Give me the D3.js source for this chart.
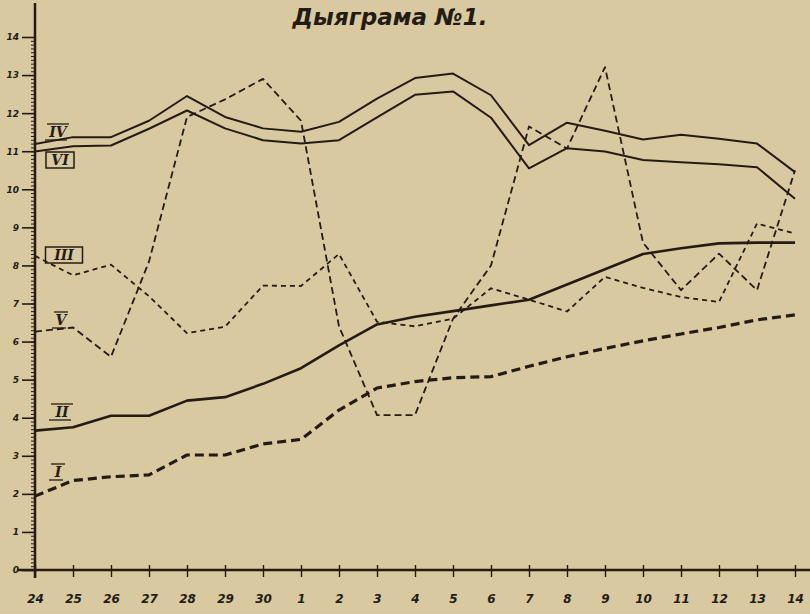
<!DOCTYPE html>
<html lang="be">
<head>
<meta charset="utf-8">
<title>Дыяграма №1</title>
<script src="https://cdnjs.cloudflare.com/ajax/libs/d3/7.8.5/d3.min.js"></script>
<style>
  body { margin: 0; background: #d8c9a0; }
  svg { display: block; }
  .tick text { font-family: "DejaVu Sans", sans-serif; font-style: italic; font-weight: bold; }
</style>
</head>
<body>
<script>
var w = 810, h = 614;
var ink = "#241c13";

// dates along the bottom (24 .. 30, then 1 .. 14)
var days = ["24","25","26","27","28","29","30","1","2","3","4","5","6","7","8","9","10","11","12","13","14"];
var yTicks = [0,1,2,3,4,5,6,7,8,9,10,11,12,13,14];

// curves
var curveI   = [1.94,2.35,2.45,2.5,3.02,3.02,3.31,3.43,4.2,4.78,4.95,5.05,5.08,5.35,5.6,5.82,6.02,6.2,6.37,6.57,6.7];
var curveII  = [3.66,3.75,4.05,4.05,4.45,4.54,4.89,5.3,5.9,6.45,6.65,6.8,6.95,7.1,7.5,7.9,8.3,8.45,8.58,8.6,8.6];
var curveIII = [8.25,7.74,8.02,7.19,6.22,6.39,7.47,7.46,8.3,6.52,6.4,6.6,7.4,7.1,6.79,7.7,7.41,7.17,7.04,9.1,8.84];
var curveIV  = [11.19,11.37,11.37,11.8,12.45,11.9,11.6,11.51,11.77,12.38,12.92,13.04,12.47,11.16,11.75,11.54,11.31,11.43,11.33,11.2,10.45];
var curveV   = [6.26,6.37,5.6,8.1,11.9,12.36,12.9,11.8,6.4,4.07,4.07,6.6,8.0,11.65,11.07,13.21,8.6,7.35,8.31,7.35,10.5];
var curveVI  = [10.99,11.13,11.15,11.59,12.07,11.6,11.29,11.2,11.29,11.89,12.48,12.57,11.88,10.55,11.08,10.99,10.77,10.71,10.66,10.58,9.75];

var svg = d3.select("body").append("svg")
    .attr("width", w)
    .attr("height", h);

svg.append("rect").attr("width", w).attr("height", h).attr("fill", "#d8c9a0");

var x = d3.scalePoint().domain(d3.range(days.length)).range([35, 795]);
var y = d3.scaleLinear().domain([0, 14]).range([570, 37]);

// title
svg.append("text")
    .attr("x", 390).attr("y", 25)
    .attr("text-anchor", "middle")
    .attr("font-family", "DejaVu Sans, sans-serif")
    .attr("font-style", "italic")
    .attr("font-weight", "bold")
    .attr("font-size", 23)
    .attr("fill", ink)
    .text("Дыяграма №1.");

// y ruler: fine ticks, then numbered ones
var fine = svg.append("g").attr("transform", "translate(35,0)")
    .call(d3.axisLeft(y).tickValues(d3.range(0, 14.01, 0.1)).tickSize(4).tickFormat(""));
fine.select(".domain").remove();
fine.selectAll("line").attr("stroke", ink).attr("stroke-width", 1);

var yAxis = svg.append("g").attr("transform", "translate(35,0)")
    .call(d3.axisLeft(y).tickValues(yTicks).tickSize(13).tickPadding(3).tickFormat(d3.format("d")));
yAxis.select(".domain").remove();
yAxis.selectAll("line").attr("stroke", ink).attr("stroke-width", 1.6);
yAxis.selectAll("text").attr("fill", ink).attr("font-size", 9);

svg.append("line")
    .attr("x1", 35).attr("x2", 35).attr("y1", 3).attr("y2", 578)
    .attr("stroke", ink).attr("stroke-width", 2.5);

// x axis
var xAxis = svg.append("g").attr("transform", "translate(0,570)")
    .call(d3.axisBottom(x).tickSize(7).tickPadding(17).tickFormat(function(i) { return days[i]; }));
xAxis.select(".domain").remove();
xAxis.selectAll("line").attr("stroke", ink).attr("stroke-width", 1.4).attr("y1", -5);
xAxis.selectAll("text").attr("fill", ink).attr("font-size", 12);

svg.append("line")
    .attr("x1", 18).attr("x2", 810).attr("y1", 570).attr("y2", 570)
    .attr("stroke", ink).attr("stroke-width", 2.5);

// curves
var line = d3.line()
    .x(function(d, i) { return x(i); })
    .y(function(d) { return y(d); });

var curves = [
  { data: curveIV,  width: 2,   dash: null },
  { data: curveVI,  width: 2,   dash: null },
  { data: curveII,  width: 2.6, dash: null },
  { data: curveI,   width: 3.2, dash: "9,5" },
  { data: curveIII, width: 1.8, dash: "5,4" },
  { data: curveV,   width: 1.8, dash: "7,4" }
];

svg.selectAll("path.curve")
    .data(curves)
    .enter()
    .append("path")
    .attr("class", "curve")
    .attr("d", function(d) { return line(d.data); })
    .attr("fill", "none")
    .attr("stroke", ink)
    .attr("stroke-width", function(d) { return d.width; })
    .attr("stroke-dasharray", function(d) { return d.dash; })
    .attr("stroke-linejoin", "round");

// roman numeral tags next to the y axis
var tags = [
  { t: "IV",  cx: 58, cy: 132, box: false },
  { t: "VI",  cx: 60, cy: 160, box: true },
  { t: "III", cx: 64, cy: 255, box: true },
  { t: "V",   cx: 61, cy: 320, box: false },
  { t: "II",  cx: 62, cy: 412, box: false },
  { t: "I",   cx: 58, cy: 472, box: false }
];

var tag = svg.selectAll("g.tag").data(tags).enter().append("g").attr("class", "tag");

tag.append("text")
    .attr("x", function(d) { return d.cx; })
    .attr("y", function(d) { return d.cy + 5; })
    .attr("text-anchor", "middle")
    .attr("font-family", "DejaVu Serif, serif")
    .attr("font-style", "italic")
    .attr("font-weight", "bold")
    .attr("font-size", 14)
    .attr("fill", ink)
    .text(function(d) { return d.t; });

tag.append("rect")
    .attr("x", function(d) { return d.cx - 5 - d.t.length * 4.5; })
    .attr("y", function(d) { return d.cy - 8; })
    .attr("width", function(d) { return 10 + d.t.length * 9; })
    .attr("height", 16)
    .attr("fill", "none")
    .attr("stroke", ink)
    .attr("stroke-width", function(d) { return d.box ? 1.5 : 0; });

tag.filter(function(d) { return !d.box; }).each(function(d) {
  var g = d3.select(this);
  var half = 3 + d.t.length * 4;
  g.append("line")
      .attr("x1", d.cx - half).attr("x2", d.cx + half)
      .attr("y1", d.cy - 8).attr("y2", d.cy - 8)
      .attr("stroke", ink).attr("stroke-width", 1.3);
  g.append("line")
      .attr("x1", d.cx - half - 2).attr("x2", d.cx + half - 2)
      .attr("y1", d.cy + 8).attr("y2", d.cy + 8)
      .attr("stroke", ink).attr("stroke-width", 1.3);
});
</script>
</body>
</html>
